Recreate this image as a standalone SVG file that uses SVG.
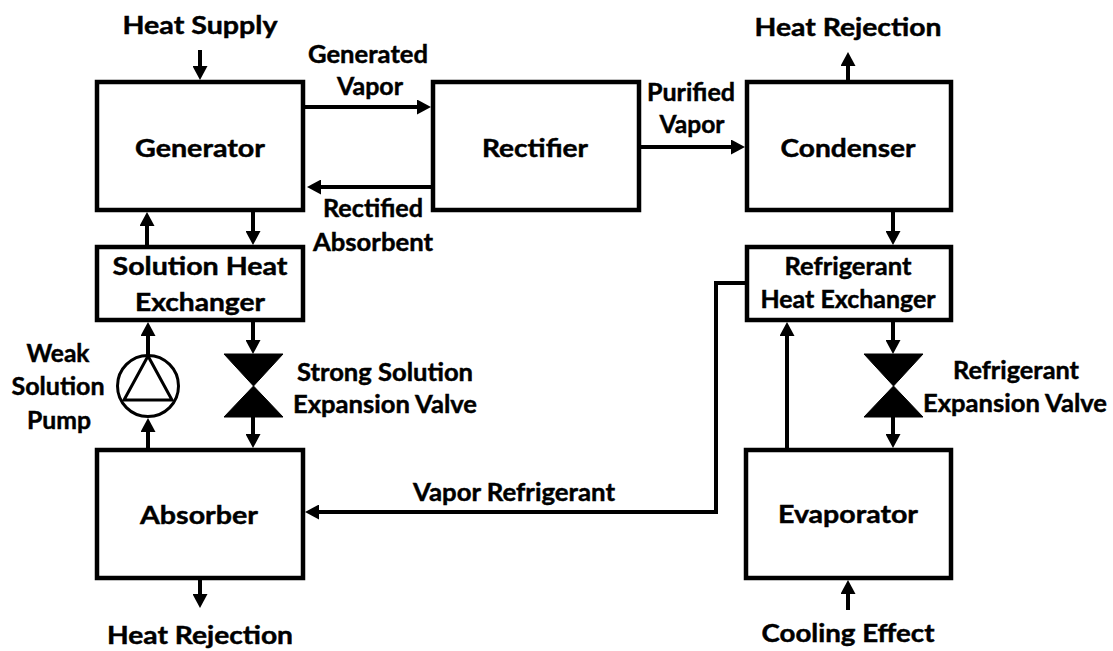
<svg xmlns="http://www.w3.org/2000/svg" width="1113" height="651" viewBox="0 0 1113 651">
<style>
.box{fill:#fff;stroke:#000;stroke-width:4.5}
.ln{fill:none;stroke:#000;stroke-width:4;marker-end:url(#ah)}
.t{font-family:Lato,"Open Sans","Liberation Sans",sans-serif;font-weight:bold;font-size:24.5px;fill:#000;stroke:#000;stroke-width:0.45;text-anchor:middle}
.valve{fill:#000;stroke:#000;stroke-width:1;stroke-linejoin:miter}
</style>
<defs>
<marker id="ah" markerUnits="userSpaceOnUse" markerWidth="14" markerHeight="15" refX="4" refY="7.5" orient="auto">
<path d="M0,0 L14,7.5 L0,15 z" fill="#000"/>
</marker>
</defs>
<rect width="1113" height="651" fill="#fff"/>
<g id="connectors">
<path class="ln" d="M200,50 V70"/>
<path class="ln" d="M305,107 H421"/>
<path class="ln" d="M431,187 H317"/>
<path class="ln" d="M641,147 H735"/>
<path class="ln" d="M848,80 V62"/>
<path class="ln" d="M893,212 V235"/>
<path class="ln" d="M253,212 V235"/>
<path class="ln" d="M147,245 V222"/>
<path class="ln" d="M253,322 V344"/>
<path class="ln" d="M253,417 V438"/>
<path class="ln" d="M148,355 V332"/>
<path class="ln" d="M148,448 V428"/>
<path class="ln" d="M200,580 V598"/>
<path class="ln" d="M745,283 H716 V512 H315"/>
<path class="ln" d="M893,322 V344"/>
<path class="ln" d="M893,417 V438"/>
<path class="ln" d="M787,448 V332"/>
<path class="ln" d="M848,610 V590"/>
</g>
<g id="generator">
<rect class="box" x="97" y="82" width="206" height="128"/>
<text class="t" x="200" y="157" textLength="130" lengthAdjust="spacingAndGlyphs">Generator</text>
</g>
<g id="rectifier">
<rect class="box" x="433" y="82" width="206" height="128"/>
<text class="t" x="535" y="157" textLength="106" lengthAdjust="spacingAndGlyphs">Rectifier</text>
</g>
<g id="condenser">
<rect class="box" x="747" y="82" width="204" height="128"/>
<text class="t" x="848" y="157" textLength="135" lengthAdjust="spacingAndGlyphs">Condenser</text>
</g>
<g id="solution-heat-exchanger">
<rect class="box" x="97" y="247" width="206" height="73"/>
<text class="t" x="200" y="275" textLength="175" lengthAdjust="spacingAndGlyphs">Solution Heat</text>
<text class="t" x="200" y="311" textLength="130" lengthAdjust="spacingAndGlyphs">Exchanger</text>
</g>
<g id="refrigerant-heat-exchanger">
<rect class="box" x="747" y="247" width="204" height="73"/>
<text class="t" x="848" y="275" textLength="127" lengthAdjust="spacingAndGlyphs">Refrigerant</text>
<text class="t" x="848" y="308" textLength="175" lengthAdjust="spacingAndGlyphs">Heat Exchanger</text>
</g>
<g id="absorber">
<rect class="box" x="97" y="450" width="206" height="128"/>
<text class="t" x="199" y="524" textLength="118" lengthAdjust="spacingAndGlyphs">Absorber</text>
</g>
<g id="evaporator">
<rect class="box" x="746" y="450" width="205" height="128"/>
<text class="t" x="848" y="523" textLength="140" lengthAdjust="spacingAndGlyphs">Evaporator</text>
</g>
<g id="pump">
<circle cx="148" cy="386" r="30.5" fill="#fff" stroke="#000" stroke-width="3"/>
<polygon points="148,356 124,400 172,400" fill="none" stroke="#000" stroke-width="3" stroke-linejoin="miter"/>
<text class="t" x="58" y="362" textLength="63" lengthAdjust="spacingAndGlyphs">Weak</text>
<text class="t" x="58" y="395" textLength="93" lengthAdjust="spacingAndGlyphs">Solution</text>
<text class="t" x="59" y="429" textLength="64" lengthAdjust="spacingAndGlyphs">Pump</text>
</g>
<g id="strong-solution-valve">
<polygon class="valve" points="224,354 283,354 253.5,386"/>
<polygon class="valve" points="224,417 283,417 253.5,386"/>
<text class="t" x="385" y="381" textLength="176" lengthAdjust="spacingAndGlyphs">Strong Solution</text>
<text class="t" x="385" y="413" textLength="184" lengthAdjust="spacingAndGlyphs">Expansion Valve</text>
</g>
<g id="refrigerant-valve">
<polygon class="valve" points="864,354 923,354 893.5,386"/>
<polygon class="valve" points="864,417 923,417 893.5,386"/>
<text class="t" x="1016" y="379" textLength="126" lengthAdjust="spacingAndGlyphs">Refrigerant</text>
<text class="t" x="1015" y="412" textLength="184" lengthAdjust="spacingAndGlyphs">Expansion Valve</text>
</g>
<g id="labels">
<text class="t" x="200" y="34" textLength="155" lengthAdjust="spacingAndGlyphs">Heat Supply</text>
<text class="t" x="368" y="63" textLength="120" lengthAdjust="spacingAndGlyphs">Generated</text>
<text class="t" x="370" y="95" textLength="66" lengthAdjust="spacingAndGlyphs">Vapor</text>
<text class="t" x="373" y="217" textLength="100" lengthAdjust="spacingAndGlyphs">Rectified</text>
<text class="t" x="373" y="251" textLength="120" lengthAdjust="spacingAndGlyphs">Absorbent</text>
<text class="t" x="691" y="101" textLength="88" lengthAdjust="spacingAndGlyphs">Purified</text>
<text class="t" x="692" y="133" textLength="65" lengthAdjust="spacingAndGlyphs">Vapor</text>
<text class="t" x="848" y="36" textLength="187" lengthAdjust="spacingAndGlyphs">Heat Rejection</text>
<text class="t" x="514" y="501" textLength="202" lengthAdjust="spacingAndGlyphs">Vapor Refrigerant</text>
<text class="t" x="200" y="644" textLength="186" lengthAdjust="spacingAndGlyphs">Heat Rejection</text>
<text class="t" x="848" y="642" textLength="173" lengthAdjust="spacingAndGlyphs">Cooling Effect</text>
</g>
</svg>
